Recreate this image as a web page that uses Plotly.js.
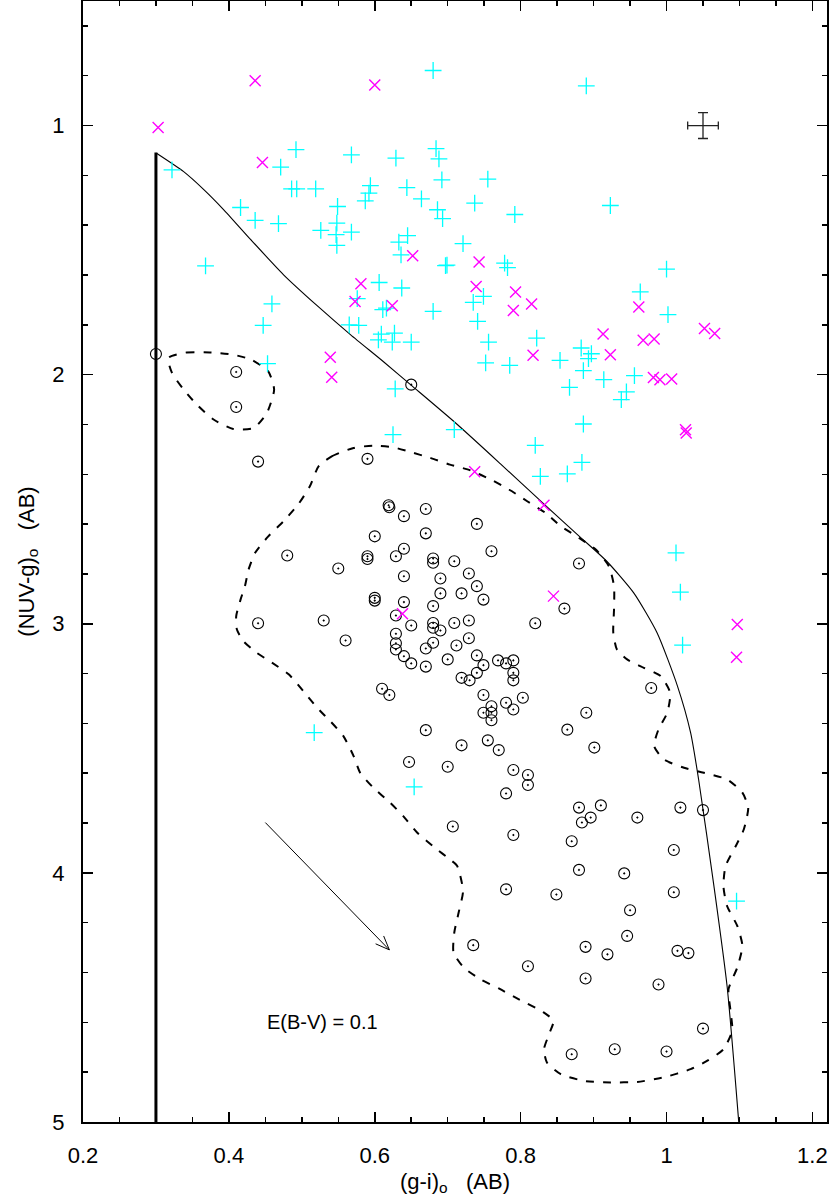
<!DOCTYPE html>
<html>
<head>
<meta charset="utf-8">
<script src="https://cdn.plot.ly/plotly-3.0.1.min.js"></script>
<style>html,body{margin:0;padding:0;background:#fff;}#chart{width:831px;height:1197px;}</style>
</head>
<body>
<div id="chart"></div>
<script>
// Open circles (black)
const circX = [0.300,0.410,0.650,0.410,0.440,0.590,0.619,0.620,0.670,0.640,0.600,0.670,0.480,0.590,0.590,0.629,0.640,0.680,0.680,0.709,0.550,0.640,0.690,0.690,0.719,0.600,0.600,0.640,0.680,0.440,0.530,0.629,0.650,0.680,0.680,0.690,0.709,0.560,0.629,0.629,0.629,0.640,0.650,0.670,0.680,0.670,0.712,0.700,0.719,0.610,0.620,0.670,0.719,0.647,0.700,0.707,0.740,0.760,0.729,0.740,0.749,0.880,0.860,0.820,0.729,0.729,0.740,0.749,0.769,0.780,0.790,0.790,0.790,0.740,0.730,0.749,0.760,0.780,0.803,0.790,0.749,0.760,0.760,0.890,0.979,0.864,0.901,0.755,0.770,0.790,0.810,0.810,0.780,0.880,0.910,0.896,0.884,0.960,1.019,1.050,0.790,0.870,1.010,0.880,0.942,0.780,0.849,1.010,0.950,0.946,0.735,0.889,0.919,1.015,1.030,0.810,0.889,0.989,1.050,0.870,0.929,1.000];
const circY = [1.917,1.989,2.040,2.130,2.349,2.338,2.524,2.532,2.539,2.568,2.649,2.637,2.726,2.729,2.740,2.729,2.699,2.738,2.755,2.749,2.778,2.809,2.818,2.878,2.878,2.896,2.907,2.913,2.929,2.998,2.987,2.967,3.007,2.997,3.016,3.027,2.997,3.067,3.040,3.078,3.103,3.130,3.159,3.099,3.076,3.172,3.087,3.143,3.217,3.261,3.286,3.427,3.488,3.555,3.574,3.814,2.599,2.709,2.798,2.849,2.903,2.758,2.939,2.998,2.987,3.058,3.127,3.166,3.147,3.159,3.147,3.197,3.227,3.197,3.227,3.286,3.331,3.317,3.297,3.344,3.357,3.357,3.387,3.357,3.258,3.425,3.497,3.468,3.507,3.587,3.607,3.647,3.681,3.738,3.729,3.778,3.798,3.778,3.738,3.748,3.848,3.873,3.908,3.988,4.002,4.066,4.087,4.078,4.150,4.253,4.290,4.297,4.327,4.313,4.322,4.375,4.424,4.448,4.625,4.728,4.708,4.717];

// Cyan plus signs
const plusX = [0.680,0.322,0.492,0.471,0.568,0.629,0.684,0.688,0.692,0.486,0.493,0.519,0.594,0.592,0.587,0.644,0.664,0.686,0.693,0.416,0.436,0.468,0.549,0.548,0.547,0.548,0.526,0.568,0.633,0.645,0.636,0.721,0.697,0.699,0.368,0.459,0.447,0.606,0.637,0.576,0.611,0.616,0.680,0.565,0.578,0.609,0.605,0.627,0.624,0.650,0.453,0.628,0.890,0.755,0.737,0.792,0.923,0.778,0.782,1.000,0.964,0.749,0.735,1.002,0.741,0.822,0.756,0.752,0.785,0.854,0.883,0.897,0.893,0.886,0.956,0.914,0.867,0.945,0.938,0.709,0.886,0.820,0.884,0.827,0.864,1.013,1.019,1.022,0.625,0.517,0.654,1.096];
const plusY = [0.779,1.178,1.097,1.167,1.118,1.131,1.093,1.134,1.218,1.254,1.254,1.254,1.241,1.271,1.302,1.249,1.294,1.338,1.374,1.329,1.381,1.394,1.325,1.392,1.438,1.481,1.421,1.428,1.468,1.442,1.519,1.474,1.562,1.560,1.563,1.716,1.802,1.630,1.652,1.695,1.739,1.733,1.746,1.800,1.802,1.837,1.860,1.833,1.869,1.869,1.956,2.057,0.841,1.215,1.311,1.357,1.321,1.552,1.570,1.576,1.668,1.686,1.710,1.759,1.786,1.853,1.869,1.953,1.963,1.943,1.893,1.916,1.936,1.984,2.004,2.020,2.051,2.069,2.100,2.221,2.198,2.284,2.352,2.408,2.398,2.715,2.873,3.086,2.241,3.437,3.655,4.113];

// Magenta crosses
const crossX = [0.303,0.436,0.600,0.446,0.652,0.581,0.573,0.624,0.539,0.541,0.743,0.739,0.793,0.790,0.815,0.817,0.913,0.923,0.962,0.968,0.983,1.052,1.066,0.982,0.991,1.007,1.026,1.027,0.737,0.832,0.845,1.097,1.096,0.638];
const crossY = [1.008,0.820,0.837,1.148,1.523,1.635,1.706,1.723,1.930,2.010,1.548,1.646,1.668,1.742,1.716,1.922,1.837,1.920,1.728,1.862,1.857,1.815,1.835,2.011,2.020,2.017,2.221,2.234,2.390,2.524,2.889,3.003,3.134,2.960];

// Boundary: vertical edge at (g-i)=0.3 and the model curve
const edgeX = [0.300,0.300];
const edgeY = [5.000,1.108];
const curveX = [0.3008,0.338,0.366,0.393,0.430,0.475,0.521,0.567,0.612,0.649,0.712,0.772,0.831,0.882,0.918,0.955,0.987,1.015,1.033,1.044,1.065,1.083,1.099];
const curveY = [1.111,1.185,1.258,1.338,1.458,1.599,1.723,1.840,1.948,2.040,2.197,2.357,2.517,2.653,2.749,2.876,3.036,3.250,3.437,3.625,4.053,4.454,5.000];

// Density contours
const smallContX = [0.317,0.342,0.374,0.406,0.431,0.454,0.462,0.452,0.434,0.406,0.379,0.356,0.338,0.322,0.317];
const smallContY = [1.933,1.911,1.911,1.920,1.940,1.987,2.060,2.154,2.214,2.218,2.180,2.120,2.060,1.993,1.933];
const bigContX = [0.523,0.541,0.571,0.598,0.626,0.646,0.676,0.703,0.731,0.759,0.784,0.809,0.834,0.855,0.880,0.903,0.921,0.928,0.928,0.927,0.932,0.946,0.969,0.992,1.005,1.001,0.989,0.983,0.996,1.024,1.051,1.083,1.104,1.112,1.106,1.095,1.081,1.078,1.083,1.097,1.104,1.097,1.085,1.088,1.090,1.078,1.056,1.033,0.996,0.960,0.923,0.887,0.855,0.836,0.832,0.839,0.845,0.831,0.797,0.772,0.745,0.722,0.708,0.709,0.715,0.721,0.713,0.703,0.685,0.658,0.639,0.621,0.598,0.580,0.571,0.557,0.539,0.521,0.502,0.482,0.459,0.438,0.420,0.411,0.410,0.416,0.422,0.427,0.436,0.454,0.475,0.495,0.511,0.523];
const bigContY = [2.368,2.328,2.294,2.285,2.292,2.308,2.334,2.361,2.384,2.421,2.461,2.508,2.555,2.608,2.655,2.702,2.769,2.849,2.943,3.036,3.103,3.143,3.177,3.210,3.277,3.357,3.424,3.491,3.544,3.578,3.598,3.625,3.678,3.738,3.825,3.892,3.972,4.053,4.133,4.213,4.293,4.380,4.467,4.560,4.634,4.708,4.754,4.788,4.821,4.839,4.841,4.835,4.808,4.761,4.708,4.647,4.594,4.559,4.507,4.467,4.427,4.380,4.320,4.240,4.159,4.073,3.972,3.946,3.905,3.838,3.772,3.718,3.658,3.598,3.531,3.451,3.391,3.337,3.270,3.203,3.156,3.116,3.070,3.023,2.970,2.903,2.849,2.782,2.715,2.649,2.588,2.521,2.448,2.368];

// Reddening vector E(B-V)=0.1
const vecX = [0.450,0.620];
const vecY = [3.798,4.309];
const vecLabel = 'E(B-V) = 0.1';

// Typical error bar
const errX = [1.05];
const errY = [1.00];
const errDx = 0.021, errDy = 0.052;

const W = 831, H = 1197;
const M = {l:83, r:4, t:1, b:75, pad:0};
const xRange = [0.2, 1.22];
const yRange = [5, 0.5];
const pxPerX = (W - M.l - M.r) / (xRange[1] - xRange[0]);
const pxPerY = (H - M.t - M.b) / (yRange[0] - yRange[1]);

// arrow head (computed in pixel space, converted back to data units)
const dxp = (vecX[1]-vecX[0])*pxPerX, dyp = (vecY[1]-vecY[0])*pxPerY;
const back = Math.atan2(-dyp, -dxp);
const L = 15, spread = 22*Math.PI/180;
const headX = [vecX[1] + L*Math.cos(back+spread)/pxPerX, vecX[1], vecX[1] + L*Math.cos(back-spread)/pxPerX];
const headY = [vecY[1] + L*Math.sin(back+spread)/pxPerY, vecY[1], vecY[1] + L*Math.sin(back-spread)/pxPerY];

const FONT = 'Liberation Sans, Arial, Helvetica, sans-serif';

const traces = [
  {x: bigContX, y: bigContY, mode:'lines', line:{color:'#000', width:2, dash:'8px,9px', shape:'spline', smoothing:0.6}, hoverinfo:'skip'},
  {x: smallContX, y: smallContY, mode:'lines', line:{color:'#000', width:2, dash:'8px,9px', shape:'spline', smoothing:0.6}, hoverinfo:'skip'},
  {x: curveX, y: curveY, mode:'lines', line:{color:'#000', width:1.1, shape:'spline', smoothing:0.6}, hoverinfo:'skip'},
  {x: edgeX, y: edgeY, mode:'lines', line:{color:'#000', width:3}, hoverinfo:'skip'},
  {x: vecX, y: vecY, mode:'lines', line:{color:'#000', width:1}, hoverinfo:'skip'},
  {x: headX, y: headY, mode:'lines', line:{color:'#000', width:1}, hoverinfo:'skip'},
  {x: errX, y: errY, mode:'markers', marker:{size:1, color:'rgba(0,0,0,0)'},
   error_x:{type:'constant', value:errDx, width:4, thickness:1.3, color:'#222'},
   error_y:{type:'constant', value:errDy, width:5, thickness:1.3, color:'#222'}},
  {x: circX, y: circY, mode:'markers', marker:{symbol:'circle-open-dot', size:11, color:'#000', line:{width:1.1, color:'#000'}}},
  {x: plusX, y: plusY, mode:'markers', marker:{symbol:'cross-thin', size:12, color:'#00ffff', line:{width:1.3, color:'#00ffff'}}},
  {x: crossX, y: crossY, mode:'markers', marker:{symbol:'x-thin', size:11, color:'#ff00ff', line:{width:1.4, color:'#ff00ff'}}}
];

const axisCommon = {
  showgrid:false, zeroline:false, showline:true, linewidth:2, linecolor:'#000',
  mirror:'allticks', ticks:'inside', ticklen:10, tickwidth:1.5, tickcolor:'#000',
  tickfont:{family:FONT, size:22, color:'#000'}
};

const layout = {
  width:W, height:H, margin:M, showlegend:false,
  paper_bgcolor:'#fff', plot_bgcolor:'#fff',
  font:{family:FONT, color:'#000'},
  xaxis: Object.assign({}, axisCommon, {
    range:xRange, tick0:0.2, dtick:0.2, ticklabelstandoff:13,
    minor:{dtick:0.05, ticks:'inside', ticklen:5, tickwidth:1.5, tickcolor:'#000', showgrid:false},
    title:{text:'(g-i)<sub>o</sub>\u00a0\u00a0\u00a0(AB)', font:{family:FONT, size:22, color:'#000'}, standoff:6}
  }),
  yaxis: Object.assign({}, axisCommon, {
    range:yRange, tick0:1, dtick:1, ticklabelstandoff:12,
    minor:{dtick:0.2, ticks:'inside', ticklen:5, tickwidth:1.5, tickcolor:'#000', showgrid:false},
    title:{text:'(NUV-g)<sub>o</sub>\u00a0\u00a0\u00a0(AB)', font:{family:FONT, size:22, color:'#000'}, standoff:12}
  }),
  annotations:[
    {x:0.528, y:4.60, xref:'x', yref:'y', text:vecLabel, showarrow:false, font:{family:FONT, size:20, color:'#000'}}
  ]
};

Plotly.newPlot('chart', traces, layout, {staticPlot:true, displayModeBar:false});
</script>
</body>
</html>
